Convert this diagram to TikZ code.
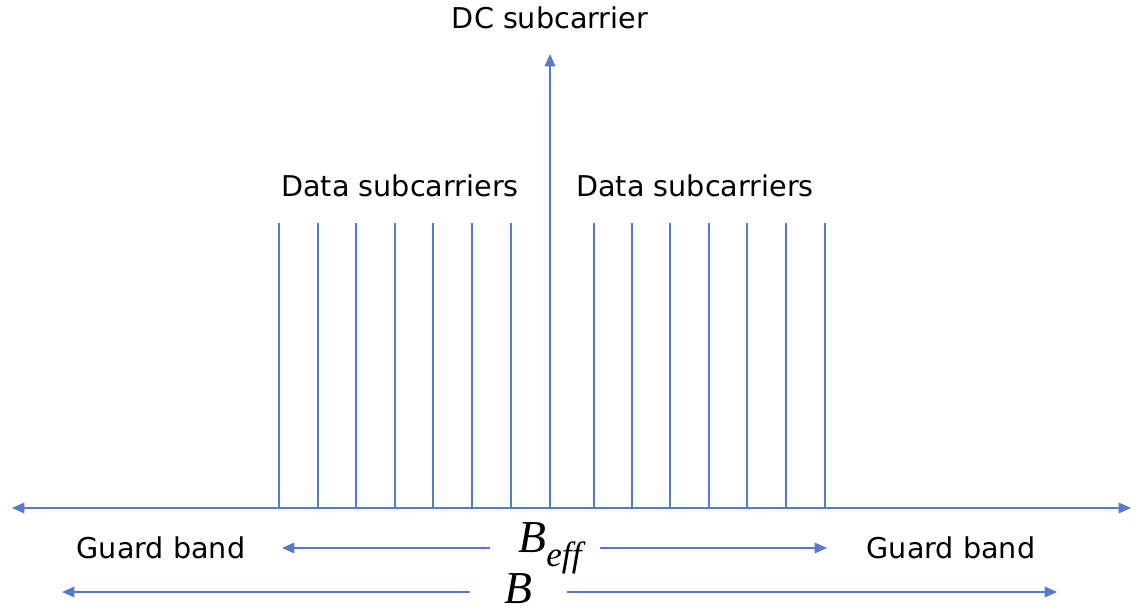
\documentclass[tikz,border=0pt]{standalone}
\usepackage{fontspec}
\setmainfont{DejaVu Sans}
\newfontfamily\timesfont{Liberation Serif}
\usepackage{xcolor}
\usetikzlibrary{arrows.meta, positioning}
\definecolor{carrierblue}{RGB}{88,122,204}
\tikzset{
  carrier/.style={draw=carrierblue, line width=0.9pt},
  arrowline/.style={-{Triangle[length=7pt, width=6pt]}, draw=carrierblue, line width=0.9pt},
  lbl/.style={inner sep=1pt, font=\fontsize{16.3}{19}\selectfont},
  sym/.style={inner sep=1pt, font=\timesfont\itshape\fontsize{26}{28}\selectfont},
}

\begin{document}
\begin{tikzpicture}[x=0.02cm, y=-0.02cm]
\useasboundingbox (0,0) rectangle (1133,615);
% frequency axis
\coordinate (axl) at (12,508);
\coordinate (axr) at (1131,508);
\coordinate (origin) at (550,508);
\draw[arrowline] (origin) -- (axl);
\draw[arrowline] (origin) -- (axr);
% data subcarriers
\foreach \x in {279,318,356,395,433,472,511,594,632,670,709,747,786,825}{
  \draw[carrier] (\x,508) -- (\x,223);
}
% DC subcarrier
\node[lbl] (dc) at (550,18) {DC subcarrier};
\coordinate (dctip) at (550,54);
\draw[arrowline] (origin) -- (dctip);
\node[lbl] (datal) at (400,186) {Data subcarriers};
\node[lbl] (datar) at (695,186) {Data subcarriers};
% bandwidths
\node[lbl] (guardl) at (161,548) {Guard band};
\node[lbl] (guardr) at (951,548) {Guard band};
\node[sym] (beff) at (550,548) {B\raisebox{-0.3em}{\fontsize{20}{21}\selectfont eff}};
\coordinate (beffa) at (490,548);
\coordinate (beffb) at (600,548);
\coordinate (beffl) at (282,548);
\coordinate (beffr) at (827,548);
\draw[arrowline] (beffa) -- (beffl);
\draw[arrowline] (beffb) -- (beffr);
\node[sym] (bw) at (518,589) {B};
\coordinate (bwa) at (470,592);
\coordinate (bwb) at (567,592);
\coordinate (bwl) at (62,592);
\coordinate (bwr) at (1057,592);
\draw[arrowline] (bwa) -- (bwl);
\draw[arrowline] (bwb) -- (bwr);
\end{tikzpicture}
\end{document}
